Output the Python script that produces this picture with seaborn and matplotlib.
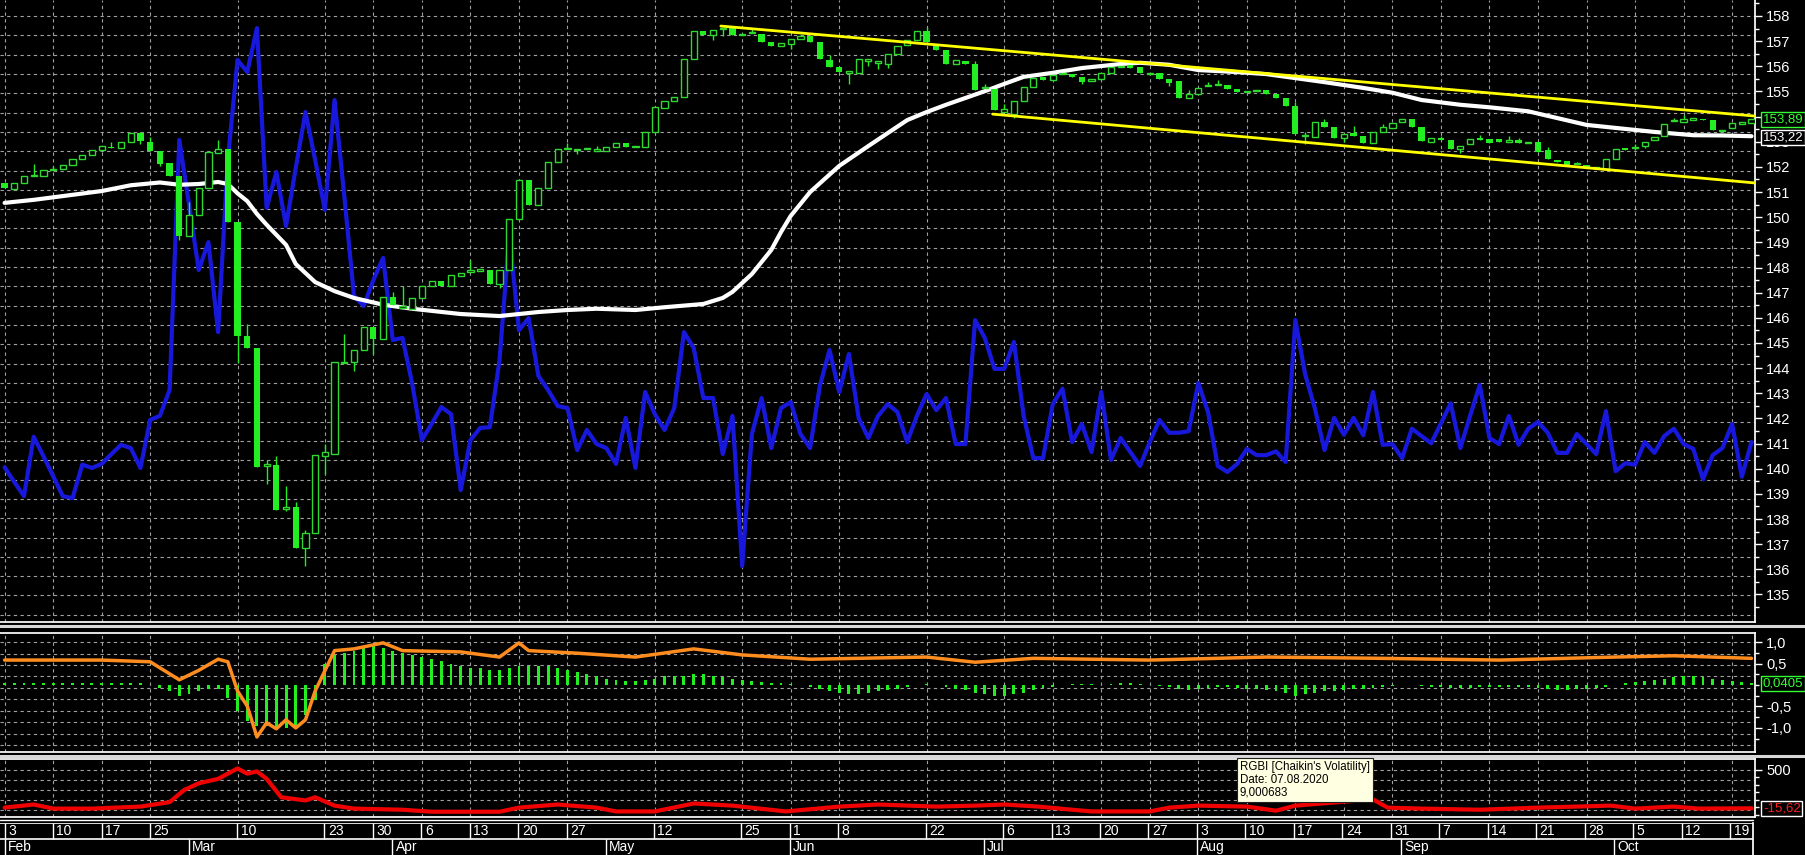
import numpy as np
import pandas as pd
import matplotlib
matplotlib.use("Agg")
import matplotlib.pyplot as plt
import matplotlib.transforms as mtransforms
from matplotlib.lines import Line2D
import seaborn as sns

# MOEX trading calendar 2020 (exchange holidays removed)
holidays = ["2020-02-24", "2020-03-09", "2020-05-01", "2020-05-11",
            "2020-06-12", "2020-06-24", "2020-07-01"]
dates = pd.bdate_range("2020-02-03", "2020-10-21", freq="C", holidays=holidays)

opens = [151.37, 151.13, 151.37, 151.62, 151.62, 151.88, 151.92, 152.07, 152.31, 152.47,
         152.67, 152.78, 152.75, 152.99, 153.34, 152.99, 152.64, 152.15, 151.64, 149.25,
         150.08, 151.16, 152.56, 152.70, 149.81, 145.28, 144.80, 140.10, 140.15, 138.40,
         138.47, 136.85, 137.45, 140.50, 140.60, 144.20, 144.24, 144.72, 145.63, 145.15,
         146.84, 146.40, 146.36, 146.79, 147.26, 147.47, 147.26, 147.66, 147.84, 147.88,
         147.90, 147.35, 147.90, 149.92, 151.48, 150.49, 151.16, 152.20, 152.70, 152.66,
         152.70, 152.65, 152.62, 152.78, 152.97, 152.78, 152.80, 153.39, 154.33, 154.61,
         154.79, 156.30, 157.41, 157.24, 157.47, 157.52, 157.23, 157.31, 157.28, 156.97,
         156.81, 156.89, 157.08, 157.20, 156.97, 156.25, 155.98, 155.75, 155.73, 156.23,
         156.15, 156.09, 156.49, 156.86, 157.05, 157.40, 156.90, 156.65, 156.09, 156.22,
         156.09, 155.12, 155.10, 154.20, 154.10, 154.63, 155.17, 155.58, 155.45, 155.68,
         155.70, 155.58, 155.43, 155.50, 155.72, 155.98, 156.06, 155.96, 155.70, 155.72,
         155.50, 155.40, 154.74, 154.90, 155.20, 155.25, 155.27, 155.11, 154.96, 155.02,
         155.06, 154.90, 154.74, 154.42, 153.21, 153.20, 153.79, 153.58, 153.15, 153.36,
         153.23, 152.94, 153.39, 153.55, 153.79, 153.90, 153.58, 153.00, 153.15, 153.07,
         152.72, 152.91, 153.15, 153.10, 153.10, 153.00, 153.07, 152.95, 152.99, 152.67,
         152.27, 152.22, 152.10, 152.08, 151.94, 151.93, 152.31, 152.75, 152.76, 152.83,
         153.07, 153.23, 153.81, 153.79, 153.88, 153.91, 153.86, 153.43, 153.55, 153.72,
         153.74]
closes = [151.16, 151.37, 151.64, 151.66, 151.86, 151.92, 152.08, 152.31, 152.47, 152.69,
          152.83, 152.74, 152.99, 153.34, 153.04, 152.64, 152.11, 151.64, 149.25, 150.08,
          151.16, 152.59, 152.70, 149.81, 145.28, 144.80, 140.06, 140.18, 138.36, 138.46,
          136.85, 137.45, 140.54, 140.66, 144.24, 144.24, 144.72, 145.63, 145.15, 146.84,
          146.52, 146.44, 146.79, 147.26, 147.47, 147.26, 147.70, 147.79, 147.88, 147.92,
          147.35, 147.90, 149.92, 151.48, 150.49, 151.16, 152.20, 152.72, 152.74, 152.70,
          152.74, 152.69, 152.78, 152.97, 152.78, 152.82, 153.39, 154.37, 154.61, 154.79,
          156.30, 157.41, 157.25, 157.44, 157.51, 157.25, 157.27, 157.35, 156.97, 156.81,
          156.92, 157.09, 157.20, 156.97, 156.28, 155.98, 155.77, 155.79, 156.28, 156.27,
          156.19, 156.49, 156.81, 157.05, 157.40, 156.97, 156.65, 156.09, 156.25, 156.09,
          155.06, 155.16, 154.26, 154.30, 154.63, 155.17, 155.53, 155.45, 155.65, 155.72,
          155.58, 155.38, 155.47, 155.72, 155.96, 156.02, 155.93, 155.72, 155.74, 155.50,
          155.34, 154.74, 154.90, 155.14, 155.24, 155.29, 155.11, 154.98, 155.00, 155.06,
          154.90, 154.74, 154.42, 153.31, 153.25, 153.79, 153.58, 153.15, 153.31, 153.23,
          152.94, 153.39, 153.58, 153.74, 153.90, 153.58, 153.04, 153.15, 153.07, 152.70,
          152.83, 153.12, 153.07, 152.97, 152.99, 153.04, 152.97, 152.99, 152.59, 152.32,
          152.18, 152.04, 152.14, 151.99, 151.98, 152.31, 152.72, 152.67, 152.80, 152.99,
          153.20, 153.71, 153.85, 153.91, 153.92, 153.86, 153.47, 153.47, 153.75, 153.76,
          153.89]
# visible shadows (day index -> price)
wick_high = {3: 152.10, 5: 152.05, 11: 152.99, 14: 153.39, 15: 153.18, 19: 150.60, 22: 153.07,
             25: 145.75, 27: 140.35, 28: 140.50, 29: 139.30, 30: 138.68, 31: 137.56, 33: 140.98,
             35: 145.35, 40: 147.03, 41: 147.26, 48: 148.30, 58: 152.95, 61: 152.85, 77: 157.50,
             85: 156.45, 95: 157.55, 100: 156.20, 101: 155.30, 103: 154.50, 122: 155.05,
             124: 155.38, 125: 155.45, 133: 154.58, 134: 153.40, 136: 153.90, 139: 153.63,
             142: 153.70, 148: 153.23, 152: 153.26, 155: 153.23, 156: 153.15, 159: 152.78,
             162: 152.20, 168: 152.90, 172: 153.95, 173: 154.05}
wick_low = {14: 152.91, 16: 152.03, 18: 149.10, 24: 144.20, 27: 139.40, 29: 138.30, 31: 136.13,
            33: 139.79, 36: 143.90, 38: 144.56, 51: 147.20, 59: 152.50, 73: 157.05, 74: 157.20,
            81: 156.70, 87: 155.30, 89: 156.00, 90: 155.90, 91: 155.95, 104: 153.95, 111: 155.30,
            120: 155.20, 134: 152.90, 138: 152.98, 150: 152.55, 168: 152.67, 169: 152.75}

# overlay indicator (blue), drawn on the price scale
blue = [140.06, 139.47, 138.91, 141.27, 140.50, 139.71, 138.91, 138.83, 140.16, 140.03,
        140.19, 140.58, 140.95, 140.82, 140.03, 141.94, 142.10, 143.13, 153.07, 150.52,
        147.90, 149.01, 145.43, 152.27, 156.25, 155.77, 157.52, 150.37, 151.80, 149.65,
        151.96, 154.18, 152.27, 150.29, 154.66, 150.84, 146.87, 146.47, 147.50, 148.38,
        145.12, 145.20, 143.37, 141.14, 141.78, 142.45, 142.17, 139.15, 141.14, 141.62,
        141.65, 144.32, 149.33, 145.51, 145.99, 143.69, 143.13, 142.49, 142.41, 140.74,
        141.54, 140.98, 140.82, 140.19, 142.02, 140.03, 143.05, 142.17, 141.54, 142.41,
        145.43, 144.80, 142.81, 142.81, 140.58, 142.10, 136.13, 141.38, 142.81, 140.82,
        142.41, 142.65, 141.38, 140.82, 143.29, 144.72, 143.05, 144.56, 142.02, 141.22,
        142.10, 142.57, 142.25, 141.06, 142.10, 142.97, 142.33, 142.81, 140.98, 140.98,
        145.91, 145.20, 143.97, 143.97, 145.04, 142.10, 140.42, 140.42, 142.57, 143.18,
        141.06, 141.78, 140.66, 143.05, 140.35, 141.22, 140.66, 140.11, 141.06, 141.94,
        141.43, 141.43, 141.49, 143.41, 142.25, 140.11, 139.87, 140.19, 140.79, 140.54,
        140.54, 140.69, 140.27, 145.91, 143.77, 142.41, 140.74, 142.02, 141.35, 142.02,
        141.33, 143.05, 140.95, 140.98, 140.42, 141.59, 141.30, 141.01, 141.81, 142.60,
        140.82, 142.10, 143.33, 141.22, 140.98, 142.10, 140.95, 141.59, 141.86, 141.43,
        140.63, 140.63, 141.38, 140.98, 140.58, 142.29, 139.90, 140.22, 140.16, 141.06,
        140.63, 141.30, 141.59, 140.98, 140.79, 139.58, 140.54, 140.82, 141.78, 139.68,
        141.06]

# moving average (white), read at these day indices
ma_day = [0, 3, 6, 10, 13, 16, 18, 20, 22, 23, 24, 25, 26, 27, 29, 30, 32, 34, 36, 39,
          42, 47, 51, 55, 58, 61, 65, 68, 72, 74, 75, 77, 79, 80, 81, 83, 86, 89, 93, 95,
          97, 99, 101, 103, 105, 108, 111, 115, 117, 120, 123, 127, 130, 133, 136, 140,
          143, 146, 150, 153, 157, 160, 163, 167, 170, 174, 177, 180]
ma_val = [150.57, 150.69, 150.84, 151.04, 151.27, 151.38, 151.29, 151.32, 151.40, 151.32,
          150.95, 150.64, 150.13, 149.70, 148.90, 148.14, 147.42, 147.06, 146.79, 146.52,
          146.36, 146.15, 146.07, 146.23, 146.31, 146.36, 146.31, 146.42, 146.55, 146.79,
          147.03, 147.74, 148.70, 149.41, 150.05, 151.00, 152.04, 152.83, 153.86, 154.18,
          154.47, 154.74, 155.01, 155.30, 155.58, 155.74, 155.93, 156.09, 156.14, 156.06,
          155.85, 155.77, 155.69, 155.53, 155.37, 155.14, 154.95, 154.66, 154.47, 154.37,
          154.21, 153.94, 153.67, 153.51, 153.39, 153.26, 153.25, 153.22]

# channel lines (day index, price)
upper_day = [73.8, 180.4]
upper_px = [157.60, 154.02]
lower_day = [101.8, 180.4]
lower_px = [154.10, 151.36]

# oscillator panel
osc_hist = [0.04, 0.04, 0.05, 0.05, 0.05, 0.05, 0.05, 0.05, 0.05, 0.05,
            0.05, 0.05, 0.05, 0.05, 0.04, 0.0, -0.08, -0.15, -0.25, -0.2,
            -0.15, -0.1, -0.1, -0.3, -0.6, -0.85, -0.95, -0.95, -1.0, -1.0,
            -0.95, -0.7, -0.35, 0.5, 0.7, 0.75, 0.8, 0.85, 0.9, 0.85,
            0.8, 0.75, 0.7, 0.65, 0.6, 0.55, 0.5, 0.45, 0.4, 0.4,
            0.35, 0.35, 0.4, 0.45, 0.45, 0.45, 0.45, 0.4, 0.35, 0.3,
            0.25, 0.2, 0.15, 0.12, 0.1, 0.1, 0.12, 0.15, 0.2, 0.2,
            0.2, 0.25, 0.25, 0.2, 0.18, 0.15, 0.12, 0.1, 0.08, 0.05,
            0.04, 0.02, 0.0, -0.05, -0.1, -0.15, -0.18, -0.2, -0.2, -0.18,
            -0.15, -0.12, -0.1, -0.05, 0.0, 0.03, 0.0, -0.05, -0.1, -0.12,
            -0.18, -0.22, -0.25, -0.25, -0.22, -0.18, -0.12, -0.08, -0.05, 0.0,
            0.02, 0.03, 0.02, 0.0, 0.03, 0.05, 0.05, 0.03, 0.0, -0.03,
            -0.05, -0.1, -0.12, -0.1, -0.08, -0.05, -0.05, -0.08, -0.1, -0.1,
            -0.12, -0.15, -0.18, -0.25, -0.22, -0.18, -0.15, -0.15, -0.12, -0.1,
            -0.1, -0.08, -0.05, -0.03, 0.0, 0.0, -0.03, -0.05, -0.05, -0.08,
            -0.08, -0.06, -0.05, -0.05, -0.05, -0.05, -0.05, -0.05, -0.08, -0.1,
            -0.12, -0.12, -0.1, -0.1, -0.08, -0.05, 0.0, 0.05, 0.08, 0.1,
            0.12, 0.15, 0.18, 0.2, 0.2, 0.18, 0.15, 0.12, 0.1, 0.08,
            0.04]
sig_day = [0, 10, 15, 18, 20, 22, 23, 24, 25, 26, 27, 28, 29, 30, 31, 32, 34, 36, 39, 41,
           47, 51, 53, 54, 59, 65, 71, 76, 83, 95, 100, 106, 118, 130, 142, 154, 166, 172, 180]
sig_val = [0.58, 0.58, 0.54, 0.12, 0.34, 0.60, 0.54, -0.14, -0.49, -1.21, -0.88, -1.02, -0.81,
           -1.00, -0.81, -0.14, 0.80, 0.84, 0.98, 0.80, 0.77, 0.65, 0.98, 0.80, 0.74, 0.65,
           0.84, 0.70, 0.60, 0.65, 0.53, 0.62, 0.58, 0.65, 0.62, 0.58, 0.65, 0.68, 0.62]

# Chaikin's volatility panel
vol_day = [0, 3, 5, 9, 14, 17, 18.5, 20, 22, 24, 25, 26, 27, 28.5, 31, 32, 34, 36, 41, 44,
           51, 53, 57, 61, 63, 67, 71, 75, 80.5, 86, 90, 96, 100, 103, 106.5, 110, 112, 118,
           120, 123, 128, 131, 133, 137.5, 141, 142.5, 146, 152, 158, 165.5, 168, 172, 174.5, 180]
vol_val = [-7, 35, -20, -20, 7, 67, 230, 320, 380, 520, 450, 480, 380, 132, 90, 132, 20, -20,
           -35, -62, -62, -7, 35, -7, -58, -58, 49, 20, -58, 7, 35, 7, 20, 35, 7, -35, -58, -58,
           -7, 20, 7, -48, 20, 67, 104, -7, -20, -35, -7, 20, -20, 7, -20, -16]

# date axis labels
day_ticks = ["2020-02-03", "2020-02-10", "2020-02-17", "2020-02-25", "2020-03-10",
             "2020-03-23", "2020-03-30", "2020-04-06", "2020-04-13", "2020-04-20",
             "2020-04-27", "2020-05-12", "2020-05-25", "2020-06-01", "2020-06-08",
             "2020-06-22", "2020-07-06", "2020-07-13", "2020-07-20", "2020-07-27",
             "2020-08-03", "2020-08-10", "2020-08-17", "2020-08-24", "2020-08-31",
             "2020-09-07", "2020-09-14", "2020-09-21", "2020-09-28", "2020-10-05",
             "2020-10-12", "2020-10-19"]
month_names = ["Feb", "Mar", "Apr", "May", "Jun", "Jul", "Aug", "Sep", "Oct"]

GREEN = "#22EE22"
HOLLOW = "#2ED82E"
GRID = "#A0A0A0"
DASH = (0, (3, 3))

sns.set_theme(style="dark", rc={"axes.facecolor": "black", "figure.facecolor": "black"})
plt.rcParams["font.family"] = ["Liberation Sans", "DejaVu Sans"]

W, H = 1806, 855
fig = plt.figure(figsize=(W / 100, H / 100), dpi=100, facecolor="black")


def panel(top, bottom, right=1755):
    return [0, 1 - bottom / H, right / W, (bottom - top) / H]


ax = fig.add_axes(panel(0, 622))
axo = fig.add_axes(panel(633, 752), sharex=ax)
axv = fig.add_axes(panel(759, 817), sharex=ax)
axd = fig.add_axes(panel(823, 855, 1753), sharex=ax)

x = np.arange(len(dates))
xmin, xmax = -0.474, 180.36
tick_pos = dates.get_indexer(pd.to_datetime(day_ticks))
month_pos = [np.where(dates.month == m)[0][0] for m in range(2, 11)]

for a in (ax, axo, axv, axd):
    a.set_facecolor("black")
    a.grid(False)
    for s in a.spines.values():
        s.set_visible(False)
    a.tick_params(axis="x", which="both", bottom=False, labelbottom=False)
ax.set_xlim(xmin, xmax)

# ---- price panel
ax.set_ylim(133.905, 158.636)
ax.hlines(np.arange(158.0, 133.9, -0.768), xmin, xmax, colors=GRID, linestyles=DASH, lw=0.8, zorder=1)
ax.vlines(tick_pos, 133.905, 158.636, colors=GRID, linestyles=DASH, lw=0.8, zorder=1)

sns.lineplot(x=x, y=blue, ax=ax, color="#1818DC", linewidth=3, zorder=2)
sns.lineplot(x=ma_day, y=ma_val, ax=ax, color="white", linewidth=3, zorder=3)

o = np.array(opens)
c = np.array(closes)
up = c >= o
body_lo = np.minimum(o, c)
body_h = np.maximum(np.abs(c - o), 0.05)
hi = np.maximum(o, c)
lo = body_lo.copy()
for k, v in wick_high.items():
    hi[k] = v
for k, v in wick_low.items():
    lo[k] = v
ax.vlines(x, lo, hi, colors=GREEN, lw=1, zorder=4)
ax.bar(x[up], body_h[up], bottom=body_lo[up], width=0.64, facecolor="black",
       edgecolor=HOLLOW, linewidth=1, zorder=5)
ax.bar(x[~up], body_h[~up], bottom=body_lo[~up], width=0.64, color=GREEN, linewidth=0, zorder=5)

ax.plot(upper_day, upper_px, color="#FFFF00", lw=2, zorder=6)
ax.plot(lower_day, lower_px, color="#FFFF00", lw=2, zorder=6)

# ---- oscillator panel
axo.set_ylim(-1.56, 1.21)
axo.hlines(np.arange(1.0, -1.56, -0.2675), xmin, xmax, colors=GRID, linestyles=DASH, lw=0.8, zorder=1)
axo.vlines(tick_pos, -1.56, 1.21, colors=GRID, linestyles=DASH, lw=0.8, zorder=1)
axo.bar(x, osc_hist, width=0.3, color=GREEN, linewidth=0, zorder=3)
sns.lineplot(x=sig_day, y=sig_val, ax=axo, color="#FF8C1E", linewidth=2.5, zorder=4)

# ---- volatility panel
axv.set_ylim(-133, 647)
axv.hlines(np.arange(500, -133, -135), xmin, xmax, colors=GRID, linestyles=DASH, lw=0.8, zorder=1)
axv.vlines(tick_pos, -133, 647, colors=GRID, linestyles=DASH, lw=0.8, zorder=1)
sns.lineplot(x=vol_day, y=vol_val, ax=axv, color="#F00000", linewidth=3, zorder=3)

# right axes
for a, ticks, labels, minor in (
        (ax, np.arange(135, 159), [str(v) for v in range(135, 159)], np.arange(134.5, 158.6, 1.0)),
        (axo, [-1.0, -0.5, 0.5, 1.0], ["-1,0", "-0,5", "0,5", "1,0"], np.arange(-1.25, 1.2, 0.25)),
        (axv, [500], ["500"], [400, 300, 200, 100, 0, -100])):
    a.yaxis.tick_right()
    a.set_yticks(ticks)
    a.set_yticklabels(labels)
    a.set_yticks(minor, minor=True)
    a.tick_params(axis="y", which="major", colors="white", labelcolor="white", length=5,
                  width=1, pad=3, labelsize=10.5, right=True, left=False)
    a.tick_params(axis="y", which="minor", colors="white", length=3, width=1, right=True, left=False)
    a.spines["right"].set_visible(True)
    a.spines["right"].set_color("white")
ax.spines["bottom"].set_visible(True)
ax.spines["bottom"].set_color("white")
for a in (axo, axv):
    for s in ("top", "bottom"):
        a.spines[s].set_visible(True)
        a.spines[s].set_color("white")


# last-value boxes
def value_box(a, y, text, fg, edge):
    tr = mtransforms.blended_transform_factory(a.transAxes, a.transData)
    a.text(1.0045, y, text, transform=tr, color=fg, fontsize=9.5, va="center", ha="left",
           zorder=10, clip_on=False,
           bbox=dict(boxstyle="square,pad=0.12", facecolor="black", edgecolor=edge, lw=1))


value_box(ax, closes[-1], "153,89", "#33FF33", "#33FF33")
value_box(ax, ma_val[-1] - 0.04, "153,22", "white", "white")
value_box(axo, osc_hist[-1], "0,0405", "#33FF33", "#33FF33")
value_box(axv, vol_val[-1], "-15,62", "#FF2020", "white")

# ---- date axis
axd.set_ylim(0, 1)
axd.axhline(1.0, color="white", lw=1.2)
axd.axhline(0.5, color="white", lw=1.2)
axd.spines["right"].set_visible(True)
axd.spines["right"].set_color("white")
axd.tick_params(axis="y", which="both", left=False, right=False, labelleft=False)
axd.vlines(tick_pos, 0.5, 1.0, colors="white", lw=1)
for p, d in zip(tick_pos, day_ticks):
    axd.text(p + 0.35, 0.74, str(int(d[-2:])), color="white", fontsize=10, va="center", ha="left")
axd.vlines(month_pos, 0.0, 0.5, colors="white", lw=1)
for p, m in zip(month_pos, month_names):
    axd.text(p + 0.35, 0.24, m, color="white", fontsize=10, va="center", ha="left")

# panel splitters
for yy in (626, 755.5):
    fig.add_artist(Line2D([0, 1], [1 - yy / H, 1 - yy / H], transform=fig.transFigure,
                          color="#D8D8D8", lw=2.2))
fig.add_artist(Line2D([0, 1753 / W], [1 - 820 / H, 1 - 820 / H], transform=fig.transFigure,
                      color="white", lw=1))

# hint box
fig.text(1240 / W, 1 - 761 / H, "RGBI [Chaikin's Volatility]\nDate: 07.08.2020\n9,000683",
         color="black", fontsize=8.3, va="top", ha="left", linespacing=1.1, zorder=20,
         bbox=dict(boxstyle="square,pad=0.25", facecolor="#FFFFE1", edgecolor="#202020", lw=0.8))

fig.savefig("out.png", dpi=100, facecolor="black")
